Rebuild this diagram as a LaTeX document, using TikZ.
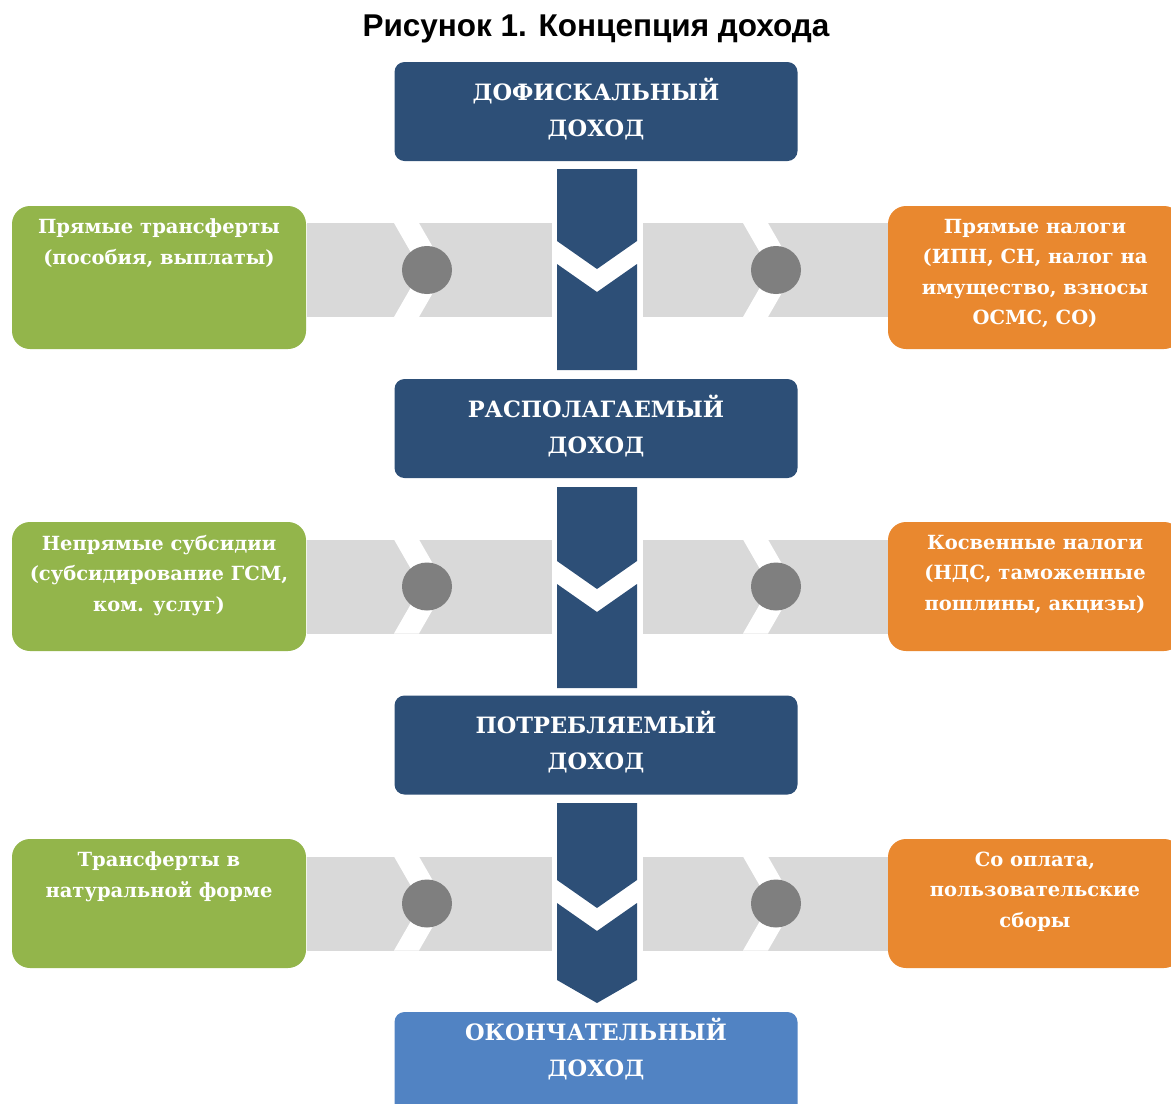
\documentclass[tikz,border=0pt]{standalone}
\usepackage{fontspec}
\setmainfont{DejaVu Serif}
\newfontfamily\titlefont{Liberation Sans}
\usepackage{tikz}

\definecolor{stagecol}{HTML}{2D4F77}
\definecolor{finalcol}{HTML}{5183C3}
\definecolor{gaincol}{HTML}{93B54B}
\definecolor{losscol}{HTML}{E9882F}
\definecolor{bandcol}{HTML}{D9D9D9}
\definecolor{dotcol}{HTML}{7F7F7F}

\begin{document}
\begin{tikzpicture}
[x=1pt,y=-1pt,
 stage/.style={fill=stagecol,rounded corners=10pt,minimum width=403pt,minimum height=99pt,inner sep=0pt,text=white,align=center,font=\fontsize{22.5}{36}\selectfont\bfseries},
 gainbox/.style={fill=gaincol,rounded corners=18pt,minimum width=294pt,minimum height=129pt,inner sep=0pt},
 lossbox/.style={gainbox,fill=losscol},
 sidetext/.style={anchor=north,inner sep=0pt,text=white,align=center,font=\fontsize{19.5}{30.5}\selectfont\bfseries}]
\clip (0,0) rectangle (1171,1104);

% grey bands with chevrons
\foreach \y in {270,586.5,903.5}{
\fill[bandcol] (307,\y-47) rectangle (552,\y+47);
\fill[bandcol] (643,\y-47) rectangle (890,\y+47);
\foreach \cx in {427,776}{
\fill[white] (\cx-33,\y-47) -- (\cx-8,\y-47) -- (\cx+19,\y) -- (\cx-8,\y+47) -- (\cx-33,\y+47) -- (\cx-6,\y) -- cycle;
\fill[dotcol] (\cx,\y) ellipse (25pt and 24pt);
}
}

% vertical arrows
\foreach \t/\v in {169/72,487/74,803/77}
\fill[stagecol] (557,\t) -- (637,\t) -- (637,\t+\v) -- (597,\t+\v+28) -- (557,\t+\v) -- cycle;
\foreach \t/\v in {169/72,487/74}
\fill[stagecol] (557,\t+\v+23) -- (597,\t+\v+51) -- (637,\t+\v+23) -- (637,\t+201) -- (557,\t+201) -- cycle;
\fill[stagecol] (557,903) -- (597,931) -- (637,903) -- (637,980) -- (597,1003) -- (557,980) -- cycle;

\node[font=\titlefont\bfseries\fontsize{31.5}{36}\selectfont] (titel) at (596,29) {Рисунок 1. Концепция дохода};

\node[stage] (dohod1) at (596,111.5) {};
\node[stage] (dohod2) at (596,428.5) {};
\node[stage] (dohod3) at (596,745) {};
\node[stage,fill=finalcol,minimum height=130pt] (dohod4) at (596,1077) {};
\node[stage,fill=none] (dohod1t) at (596,109) {ДОФИСКАЛЬНЫЙ\\ДОХОД};
\node[stage,fill=none] (dohod2t) at (596,426) {РАСПОЛАГАЕМЫЙ\\ДОХОД};
\node[stage,fill=none] (dohod3t) at (596,742.5) {ПОТРЕБЛЯЕМЫЙ\\ДОХОД};
\node[stage,fill=none] (dohod4t) at (596,1049) {ОКОНЧАТЕЛЬНЫЙ\\ДОХОД};

\node[gainbox,minimum height=143pt] (plus1) at (159,277.5) {};
\node[gainbox] (plus2) at (159,586.5) {};
\node[gainbox] (plus3) at (159,903.5) {};
\node[sidetext] (plus1t) at ([yshift=-13pt]plus1.north) {Прямые трансферты\\(пособия, выплаты)};
\node[sidetext] (plus2t) at ([yshift=-13pt]plus2.north) {Непрямые субсидии\\(субсидирование ГСМ,\\ком. услуг)};
\node[sidetext] (plus3t) at ([yshift=-13pt]plus3.north) {Трансферты в\\натуральной форме};

\node[lossbox,minimum height=143pt] (minus1) at (1035,277.5) {};
\node[lossbox] (minus2) at (1035,586.5) {};
\node[lossbox] (minus3) at (1035,903.5) {};
\node[sidetext] (minus1t) at ([yshift=-13pt]minus1.north) {Прямые налоги\\(ИПН, СН, налог на\\имущество, взносы\\ОСМС, СО)};
\node[sidetext] (minus2t) at ([yshift=-13pt]minus2.north) {Косвенные налоги\\(НДС, таможенные\\пошлины, акцизы)};
\node[sidetext] (minus3t) at ([yshift=-13pt]minus3.north) {Со оплата,\\пользовательские\\сборы};
\end{tikzpicture}
\end{document}
